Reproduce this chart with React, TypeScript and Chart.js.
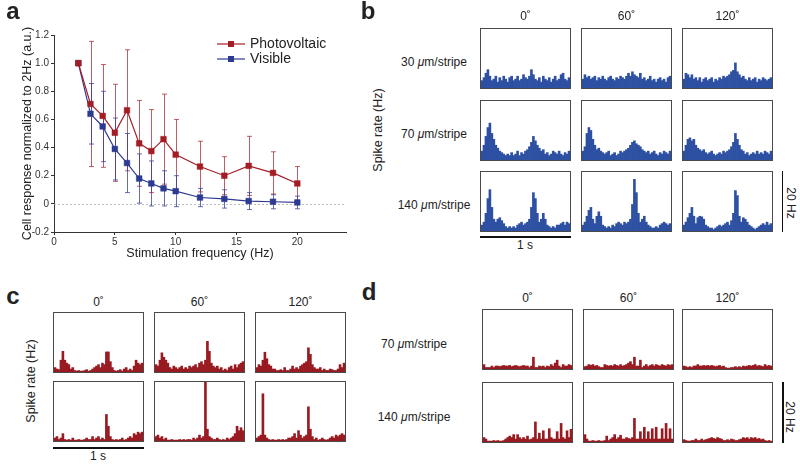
import React, { useEffect, useRef } from "react";
import { Chart, registerables } from "chart.js";
Chart.register(...registerables);

const FONT = '"Liberation Sans", Arial, Helvetica, sans-serif';
Chart.defaults.font.family = FONT;

// ---------- Panel a data ----------
const frequencies = [2, 3, 4, 5, 6, 7, 8, 9, 10, 12, 14, 16, 18, 20];
const pvMean = [1.0, 0.71, 0.625, 0.505, 0.665, 0.43, 0.375, 0.46, 0.35, 0.265, 0.2, 0.27, 0.22, 0.145];
const pvSD = [0, 0.445, 0.365, 0.345, 0.43, 0.305, 0.295, 0.32, 0.25, 0.18, 0.135, 0.21, 0.15, 0.12];
const visMean = [1.0, 0.64, 0.55, 0.39, 0.29, 0.18, 0.145, 0.11, 0.09, 0.045, 0.035, 0.02, 0.015, 0.01];
const visSD = [0, 0.215, 0.25, 0.22, 0.21, 0.175, 0.16, 0.125, 0.11, 0.065, 0.065, 0.06, 0.05, 0.045];
const seriesNames = ["Photovoltaic", "Visible"];

// ---------- Histogram labels ----------
const angles = ["0˚", "60˚", "120˚"];
const stripesB = ["30", "70", "140"];
const stripesD = ["70", "140"];

// ---------- Panel b (visible light), spike rate in Hz ----------
const visible30_0 = [2.5,3.5,5,6.2,4,2.5,3,4,2,3.5,2.5,4,3,2,3.5,4,2.5,3,4,2.5,3,4.5,3.5,3,4,6.2,4.5,3,2.5,3.5,2,4,3,2.5,3.5,2,3,4,2.5,3,4.5,5,3,2.5,3.5];
const visible30_60 = [3,4.5,3.5,4,3,3.5,4,2.5,3.5,3,4,3,2.5,3.5,4,3,2.5,3.5,3,4,3.5,3,4,5,4,5.5,4.5,4,3.5,5,3,3.5,2.5,3,4,2.5,3,2,3,3.5,2.5,3,2,3.5,4];
const visible30_120 = [3,5,4.5,3.5,4.5,3,3.5,2.5,3.5,2,3,3.5,2.5,3,3.5,2,3,2.5,3.5,3,4,3.5,4,4.5,5.5,6,8.5,5.5,4.5,3.5,4,3,2.5,3.5,2.5,3,3.5,2,3,2.5,3.5,3,2.5,3,3.5];
const visible70_0 = [3,5,8,11,12.5,9,7,5,4,3,2.5,2,1.5,2,1.5,2.5,1.5,2,3,1.5,2.5,2,3,3.5,4.5,6,8,6.5,5,4,3,3.5,2,2.5,1.5,2,3,2.5,2,3,2,1.5,2.5,2,3];
const visible70_60 = [3,4.5,9,11,10,7,5,3.5,4,3,2.5,2,2.5,3,1.5,2,2.5,1.5,2,3,2.5,3,3.5,4,5,6,6.5,5.5,5,4.5,3.5,3,2.5,3,2,2.5,3,2,1.5,2.5,2,3,2.5,2,3];
const visible70_120 = [3,5,7,7.5,6.5,7,5,4,3.5,3,3.5,2.5,2,2.5,3,2,1.5,2,2.5,2,3,2.5,3,3.5,4.5,6,9,7,5,3.5,3,2,2.5,1.5,2,2.5,2,3,2,2.5,2,3,2.5,2,3];
const visible140_0 = [2,3,6,11,14,8,4,3,4,4.5,3.5,2.5,1.5,1,1.5,1,1.5,1,2,2.5,3,2,2.5,3,4,8,13,11,6,3,4,6,4,2,1.5,1,1.5,1,2,2,2.5,3,2,3,2.5];
const visible140_60 = [2,3,5,7,8,4,2.5,5,6.5,5,2,1.5,1,1.5,1,2,1.5,2.5,3,2.5,2,3,2.5,3,4,9,17.5,13,6,3,4,5,3,2,1.5,1,1,1.5,1,2,2.5,3,2.5,2,2.5];
const visible140_120 = [2,3,4.5,6,8,5,2.5,4.5,5,4.8,4,2,1.5,1,1,0.5,1,1.5,2,1.5,2,2.5,3,2,3.5,6,13.7,12,5,3,4.5,4,3,2,1.5,1,0.5,1,1.5,2,2.5,2,3,2,2.5];

// ---------- Panel c (photovoltaic, cell 1) ----------
const pvC70_0 = [1.5,1,0.8,4,7,4,3,2.5,1,1.5,0.5,0.3,0.5,0.3,0.3,0.5,0.8,0.3,0.5,1,1.5,2,2.5,1.5,3,2.5,6.8,6.8,3.5,1.5,0.5,0.3,0.5,0.8,0.3,1,1.5,0.5,1,0.5,2,4,3,2.5,3];
const pvC70_60 = [2.5,2,4,6.5,5,4,3,1.5,1,2,1.5,1,1.5,2,1,1.5,1,2,1.5,2,2.5,1.5,3,3.5,2.5,4,10.4,7,3,2,1.5,2,1,1.5,0.5,1,0.5,1.5,2,1,2.5,1.5,2.5,3,3.5];
const pvC70_120 = [1.5,2.5,2,4,6.7,4.5,2.5,2,1,1,0.5,0.5,0.8,0.5,1.5,0.5,0.5,1,2,1,1.5,1,2,2.5,3,3.5,8.2,6,2.5,1.5,1,1,1.5,0.5,1,0.5,0.5,1,0.8,0.5,0.5,1,2.5,1.5,3];
const pvC140_0 = [1,1.5,0.5,1,2.5,0.5,0.3,0.5,0.3,1,0.3,0.3,0.5,0.3,0.3,0.5,1,0.5,0.5,1.5,0.5,1,1.5,0.5,1,0.5,9,5,1.5,0.5,0.3,0.5,0.3,0.5,1,0.3,0.5,1,1.5,1,2.5,2,3,2.5,3];
const pvC140_60 = [1.5,2,1,1.5,0.5,1,0.3,0.3,0.5,0.3,0.3,0.3,0.5,0.3,0.5,0.3,0.5,0.5,0.3,1,0.5,1,2,1,1.5,20,4,1.5,1,0.5,0.5,1,0.5,0.3,0.5,0.3,1,0.5,1,1.5,2.5,5,3.5,4.5,3.5];
const pvC140_120 = [1,1.5,2,16,2,1,0.5,0.3,0.5,0.3,0.3,0.5,0.3,0.5,0.3,0.5,1,1,1.5,2.5,1,3.5,2,1,1.5,2,11.6,4,1.5,0.5,1,0.3,0.5,1,0.5,0.3,0.5,1,1.5,1,2,1.5,2,2.5,2];

// ---------- Panel d (photovoltaic, cell 2) ----------
const pvD70_0 = [1.5,0.5,0.5,0.5,1,0.5,1,1,0.8,1,1.2,1,1,1.2,0.8,1,1.2,1,0.8,1,1.2,1,1,0.5,1,4,0.5,0.5,1,0.8,1,0.5,1,0.8,1.5,1,2,3,1,0.5,1.5,1,1,1.5,1.2];
const pvD70_60 = [0.8,1,1.5,1.2,1.5,1,1.2,0.8,0.5,0.5,1.5,1.2,1,1.2,1,1.5,1.2,1,1.5,1,1.2,1.5,2,2.5,1.5,4,1,1,3,0.5,1,1.5,0.8,1.2,1.5,1,1.5,1.2,1,1.5,1.2,1,1.5,1.2,1.5];
const pvD70_120 = [1,0.8,0.5,0.8,0.5,1,1,1.5,1,1,1.2,1,1.2,1,1.2,1,0.8,1,1.2,0.8,1,0.5,0.3,0.3,0.5,0.5,0.8,0.5,0.8,0.5,1,0.8,1,1.2,1,1.2,1.5,1,1.2,1,0.8,1.5,1,1.2,1];
const pvD140_0 = [1.5,1,0.3,0.3,0.3,0.5,0.3,0.5,0.3,0.3,0.5,1,1.5,2,1.5,2.5,1,2.5,1.5,1,1.5,1,2,0.8,1,1.5,6.8,1,3,1,3.8,1,1,4.5,1.5,1,1,3.5,1,6.3,1.5,1,3.8,1.5,4.3];
const pvD140_60 = [2.5,1,0.3,0.3,0.5,0.3,0.3,0.5,0.3,0.3,0.5,2,0.5,1,1.5,2.5,1,1.5,2.3,1,1,1.5,1.2,1,1.5,8,1,1,3.5,1,5,1,3.5,1,4.5,1,5,1,1,4.5,1,6.3,1,4.5,1];
const pvD140_120 = [0.8,0.5,0.3,0.3,0.5,0.5,1,0.5,0.5,1,0.5,0.8,1,1.2,1.5,1.2,1,1.5,1.2,1,0.5,0.5,0.8,0.5,1,0.8,0.5,0.5,0.8,1,1.5,1.2,1.5,1,1.5,1.2,1.5,1,1.2,0.8,1,0.5,0.3,0.5,0.3];

const RATE_MAX = 20;

const RED = "#a31d25";
const BLUE = "#2d3a92";
const RED_ERR = "rgba(170,40,48,0.75)";
const BLUE_ERR = "rgba(50,62,150,0.75)";
const HIST_BLUE = "#2d50a2";
const HIST_RED = "#991a20";

// ---------- layout (positions only) ----------
const BOX_W = 91;
const BOX_H = 61;
const bCols = [480, 581, 682];
const bRows = [28, 100, 171];
const cCols = [53, 154, 255];
const cRows = [312, 381];
const dCols = [482, 583, 682];
const dRows = [309, 382];

function ResponseChart() {
  const ref = useRef<HTMLCanvasElement>(null);
  useEffect(() => {
    const sds = [pvSD, visSD];
    const errCols = [RED_ERR, BLUE_ERR];
    const extras = {
      id: "extras",
      beforeDatasetsDraw(chart: any) {
        const { ctx, chartArea, scales } = chart;
        const x = scales.x, y = scales.y;
        ctx.save();
        ctx.strokeStyle = "#aaaaaa";
        ctx.lineWidth = 0.8;
        ctx.setLineDash([2, 2]);
        const y0 = Math.round(y.getPixelForValue(0)) + 0.5;
        ctx.beginPath();
        ctx.moveTo(chartArea.left, y0);
        ctx.lineTo(chartArea.right, y0);
        ctx.stroke();
        ctx.setLineDash([]);
        chart.data.datasets.forEach((ds: any, i: number) => {
          ctx.strokeStyle = errCols[i];
          ctx.lineWidth = 1;
          ds.data.forEach((p: any, j: number) => {
            const sd = sds[i][j];
            if (!sd) return;
            const px = Math.round(x.getPixelForValue(p.x)) + 0.5;
            const top = y.getPixelForValue(p.y + sd);
            const bot = y.getPixelForValue(p.y - sd);
            ctx.beginPath();
            ctx.moveTo(px, top);
            ctx.lineTo(px, bot);
            ctx.moveTo(px - 2.5, top);
            ctx.lineTo(px + 2.5, top);
            ctx.moveTo(px - 2.5, bot);
            ctx.lineTo(px + 2.5, bot);
            ctx.stroke();
          });
        });
        ctx.restore();
      },
      afterDraw(chart: any) {
        const { ctx } = chart;
        ctx.save();
        chart.data.datasets.forEach((ds: any, i: number) => {
          const yy = 44 + i * 15;
          ctx.strokeStyle = ds.borderColor;
          ctx.lineWidth = 1.2;
          ctx.beginPath();
          ctx.moveTo(217, yy);
          ctx.lineTo(245, yy);
          ctx.stroke();
          ctx.fillStyle = ds.borderColor;
          ctx.fillRect(228, yy - 3, 6, 6);
          ctx.fillStyle = "#222";
          ctx.font = `14px ${FONT}`;
          ctx.textBaseline = "middle";
          ctx.textAlign = "left";
          ctx.fillText(ds.label, 250, yy + 0.5);
        });
        ctx.restore();
      },
    };
    const chart = new Chart(ref.current!, {
      type: "line",
      data: {
        datasets: [
          {
            label: seriesNames[0],
            data: frequencies.map((f, i) => ({ x: f, y: pvMean[i] })),
            borderColor: RED,
            backgroundColor: RED,
            borderWidth: 1.2,
            pointStyle: "rect",
            pointRadius: 4,
            pointBorderWidth: 0.5,
          },
          {
            label: seriesNames[1],
            data: frequencies.map((f, i) => ({ x: f, y: visMean[i] })),
            borderColor: BLUE,
            backgroundColor: BLUE,
            borderWidth: 1.2,
            pointStyle: "rect",
            pointRadius: 4,
            pointBorderWidth: 0.5,
          },
        ],
      },
      options: {
        responsive: false,
        animation: false,
        layout: { padding: { left: 20, top: 35, right: 14, bottom: 14 } },
        plugins: { legend: { display: false }, tooltip: { enabled: false } },
        scales: {
          x: {
            type: "linear",
            min: 0,
            max: 24,
            afterBuildTicks: (axis: any) => {
              axis.ticks = axis.ticks.filter((t: any) => t.value % 5 === 0);
            },
            afterFit: (s: any) => {
              s.height = 29;
            },
            ticks: { stepSize: 5, color: "#333", font: { size: 10 }, padding: 1, maxRotation: 0 },
            grid: { drawOnChartArea: false, tickLength: 3, color: "#333" },
            border: { color: "#333", width: 1 },
            title: { display: true, text: "Stimulation frequency (Hz)", color: "#222", font: { size: 12.5 }, padding: 0 },
          },
          y: {
            min: -0.2,
            max: 1.2,
            afterFit: (s: any) => {
              s.width = 34;
            },
            ticks: {
              stepSize: 0.2,
              color: "#333",
              font: { size: 10 },
              padding: 2,
              callback: (v: any) => (Math.abs(Number(v)) < 1e-9 ? "0" : Number(v).toFixed(1)),
            },
            grid: { drawOnChartArea: false, tickLength: 3, color: "#333" },
            border: { color: "#333", width: 1 },
            title: { display: true, text: "Cell response normalized to 2Hz (a.u.)", color: "#222", font: { size: 12.5 }, padding: 0 },
          },
        },
      },
      plugins: [extras],
    });
    return () => chart.destroy();
  }, []);
  return (
    <canvas
      ref={ref}
      width={360}
      height={275}
      style={{ position: "absolute", left: 0, top: 0, width: 360, height: 275 }}
    />
  );
}

function Hist({ values, color, left, top }: { values: number[]; color: string; left: number; top: number }) {
  const ref = useRef<HTMLCanvasElement>(null);
  useEffect(() => {
    const chart = new Chart(ref.current!, {
      type: "bar",
      data: {
        labels: values.map((_, i) => String(i)),
        datasets: [
          {
            data: values,
            backgroundColor: color,
            borderWidth: 0,
            barPercentage: 1,
            categoryPercentage: 1,
          },
        ],
      },
      options: {
        responsive: false,
        animation: false,
        layout: { padding: 0 },
        plugins: { legend: { display: false }, tooltip: { enabled: false } },
        scales: {
          x: { display: false },
          y: { display: false, min: 0, max: RATE_MAX },
        },
      },
    });
    return () => chart.destroy();
  }, [values, color]);
  return (
    <div
      style={{
        position: "absolute",
        left,
        top,
        width: BOX_W,
        height: BOX_H,
        boxSizing: "border-box",
        border: "1px solid #4a4a4a",
        background: "#fff",
      }}
    >
      <canvas ref={ref} width={BOX_W - 2} height={BOX_H - 2} style={{ display: "block", width: BOX_W - 2, height: BOX_H - 2 }} />
    </div>
  );
}

function Label({ x, y, children, size = 12, rotate = 0, weight = 400 }: any) {
  return (
    <div
      style={{
        position: "absolute",
        left: x,
        top: y,
        transform: `translate(-50%, -50%) rotate(${rotate}deg)`,
        whiteSpace: "nowrap",
        fontFamily: FONT,
        fontSize: size,
        fontWeight: weight,
        color: "#222",
        lineHeight: 1,
      }}
    >
      {children}
    </div>
  );
}

function Stripe({ w }: { w: string }) {
  return (
    <>
      {w} <i>μ</i>m/stripe
    </>
  );
}

export default function App() {
  const bData = [
    [visible30_0, visible30_60, visible30_120],
    [visible70_0, visible70_60, visible70_120],
    [visible140_0, visible140_60, visible140_120],
  ];
  const cData = [
    [pvC70_0, pvC70_60, pvC70_120],
    [pvC140_0, pvC140_60, pvC140_120],
  ];
  const dData = [
    [pvD70_0, pvD70_60, pvD70_120],
    [pvD140_0, pvD140_60, pvD140_120],
  ];
  return (
    <div style={{ position: "absolute", left: 0, top: 0, width: 800, height: 464, background: "#fff", overflow: "hidden" }}>
      <ResponseChart />

      {/* panel letters */}
      <Label x={13} y={11} size={24} weight={700}>a</Label>
      <Label x={368} y={11} size={24} weight={700}>b</Label>
      <Label x={13} y={296} size={24} weight={700}>c</Label>
      <Label x={369} y={292} size={24} weight={700}>d</Label>

      {/* panel b */}
      {angles.map((a, i) => (
        <Label key={"bh" + i} x={bCols[i] + BOX_W / 2} y={16}>{a}</Label>
      ))}
      {stripesB.map((s, r) => (
        <Label key={"bl" + r} x={434} y={bRows[r] + 34}><Stripe w={s} /></Label>
      ))}
      <Label x={378} y={130} size={12.5} rotate={-90}>Spike rate (Hz)</Label>
      {bData.map((row, r) =>
        row.map((v, c) => <Hist key={`b${r}${c}`} values={v} color={HIST_BLUE} left={bCols[c]} top={bRows[r]} />)
      )}
      <div style={{ position: "absolute", left: 480, top: 236, width: 91, height: 1.5, background: "#111" }} />
      <Label x={525} y={245}>1 s</Label>
      <div style={{ position: "absolute", left: 781.5, top: 171, width: 1.5, height: 61, background: "#111" }} />
      <Label x={791} y={203} rotate={90}>20 Hz</Label>

      {/* panel c */}
      {angles.map((a, i) => (
        <Label key={"ch" + i} x={cCols[i] + BOX_W / 2} y={302}>{a}</Label>
      ))}
      <Label x={31} y={381} size={12.5} rotate={-90}>Spike rate (Hz)</Label>
      {cData.map((row, r) =>
        row.map((v, c) => <Hist key={`c${r}${c}`} values={v} color={HIST_RED} left={cCols[c]} top={cRows[r]} />)
      )}
      <div style={{ position: "absolute", left: 53, top: 447, width: 91, height: 1.5, background: "#111" }} />
      <Label x={98} y={456}>1 s</Label>

      {/* panel d */}
      {angles.map((a, i) => (
        <Label key={"dh" + i} x={dCols[i] + BOX_W / 2} y={298}>{a}</Label>
      ))}
      {stripesD.map((s, r) => (
        <Label key={"dl" + r} x={414} y={dRows[r] + 35}><Stripe w={s} /></Label>
      ))}
      {dData.map((row, r) =>
        row.map((v, c) => <Hist key={`d${r}${c}`} values={v} color={HIST_RED} left={dCols[c]} top={dRows[r]} />)
      )}
      <div style={{ position: "absolute", left: 782, top: 382, width: 1.5, height: 61, background: "#111" }} />
      <Label x={790} y={417} rotate={90}>20 Hz</Label>
    </div>
  );
}
